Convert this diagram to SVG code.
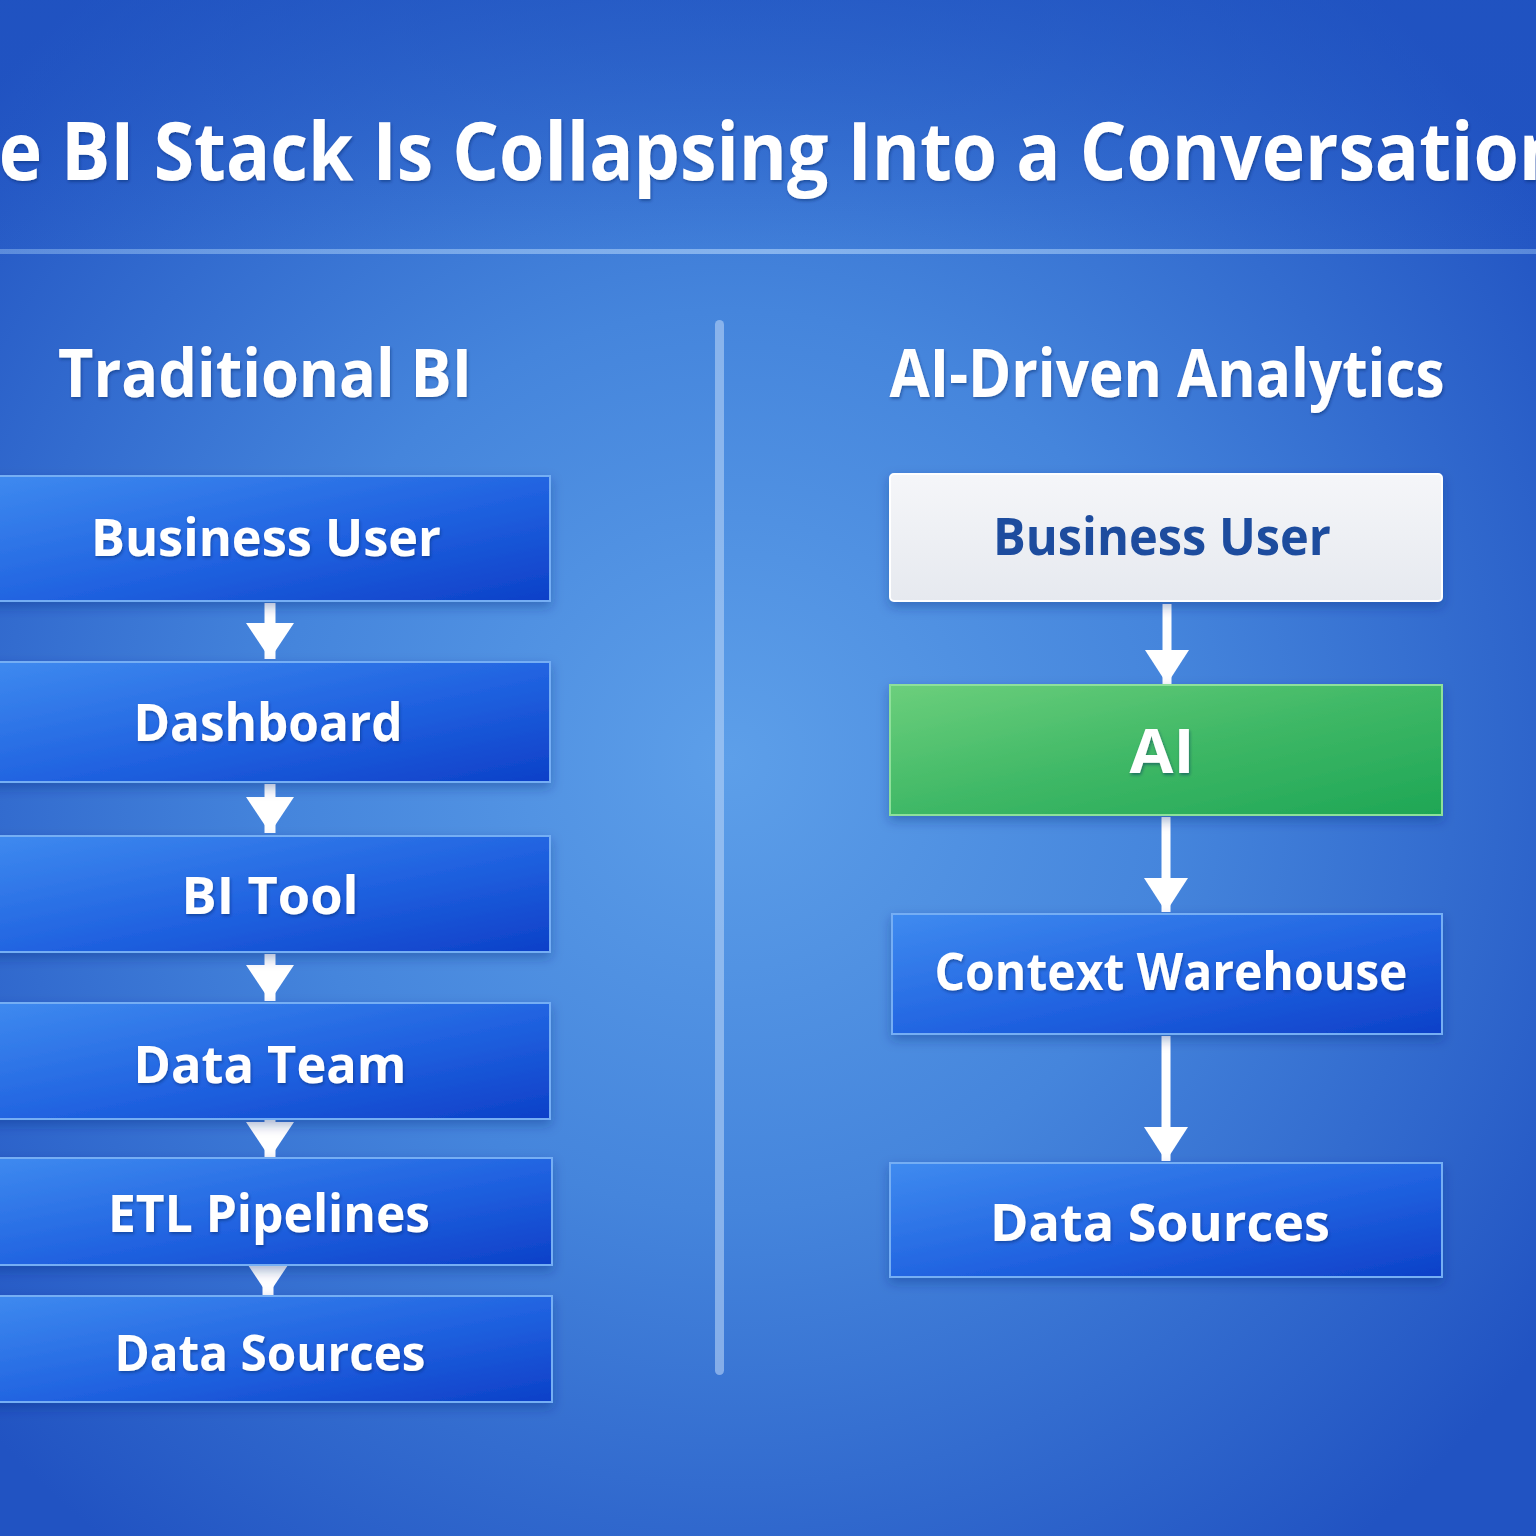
<svg xmlns="http://www.w3.org/2000/svg" width="1536" height="1536" viewBox="0 0 1536 1536">
<defs>
  <radialGradient id="bg" cx="730" cy="760" r="1000" gradientUnits="userSpaceOnUse">
    <stop offset="0" stop-color="#5d9fe9"/>
    <stop offset="0.45" stop-color="#4585dc"/>
    <stop offset="1" stop-color="#2153c2"/>
  </radialGradient>
  <linearGradient id="topband" x1="0" y1="0" x2="0" y2="1">
    <stop offset="0" stop-color="#1f52c0" stop-opacity="0.55"/>
    <stop offset="1" stop-color="#1f52c0" stop-opacity="0"/>
  </linearGradient>
  <linearGradient id="hline" x1="0" y1="0" x2="1" y2="0">
    <stop offset="0" stop-color="#8fbaf0" stop-opacity="0.5"/>
    <stop offset="0.5" stop-color="#8fbaf0" stop-opacity="0.9"/>
    <stop offset="1" stop-color="#8fbaf0" stop-opacity="0.5"/>
  </linearGradient>
  <linearGradient id="blueBox" x1="0" y1="0" x2="1" y2="1">
    <stop offset="0" stop-color="#3f8bf0"/>
    <stop offset="0.55" stop-color="#2062e0"/>
    <stop offset="1" stop-color="#0d40c8"/>
  </linearGradient>
  <linearGradient id="greenBox" x1="0" y1="0" x2="1" y2="1">
    <stop offset="0" stop-color="#6ccf7c"/>
    <stop offset="0.5" stop-color="#3fb866"/>
    <stop offset="1" stop-color="#1ea655"/>
  </linearGradient>
  <linearGradient id="whiteBox" x1="0" y1="0" x2="0" y2="1">
    <stop offset="0" stop-color="#f5f6f9"/>
    <stop offset="1" stop-color="#e6e9ef"/>
  </linearGradient>
  <filter id="boxShadow" x="-10%" y="-20%" width="120%" height="150%">
    <feDropShadow dx="0" dy="5" stdDeviation="6" flood-color="#0a2a7a" flood-opacity="0.35"/>
  </filter>
  <filter id="txtShadow" x="-5%" y="-20%" width="110%" height="150%">
    <feDropShadow dx="1" dy="2" stdDeviation="1.5" flood-color="#06205e" flood-opacity="0.45"/>
  </filter>
  <marker id="headL" markerUnits="userSpaceOnUse" markerWidth="40" markerHeight="50" refX="36" refY="25" orient="auto">
    <path d="M0,1 L36,25 L0,49 z" fill="#ffffff"/>
  </marker>
  <marker id="headR" markerUnits="userSpaceOnUse" markerWidth="40" markerHeight="50" refX="34" refY="23" orient="auto">
    <path d="M0,1 L34,23 L0,45 z" fill="#ffffff"/>
  </marker>
  <style>
    .t { font-family: "Open Sans", "Noto Sans", "DejaVu Sans", sans-serif; font-weight: 700; fill: #ffffff; text-anchor: middle; }
    .blue { fill: url(#blueBox); stroke: #74aef4; stroke-width: 2; filter: url(#boxShadow); }
    .green { fill: url(#greenBox); stroke: #8ee09a; stroke-width: 2; filter: url(#boxShadow); }
    .white { fill: url(#whiteBox); stroke: #ffffff; stroke-width: 2; filter: url(#boxShadow); }
    .lbl { font-size: 52px; filter: url(#txtShadow); }
    .conn { stroke: #ffffff; fill: none; }
    .connL { stroke-width: 11; marker-end: url(#headL); }
    .connR { stroke-width: 9; marker-end: url(#headR); }
  </style>
</defs>

<rect x="0" y="0" width="1536" height="1536" fill="url(#bg)"/>
<rect x="0" y="0" width="1536" height="260" fill="url(#topband)"/>

<g id="title">
  <text class="t" x="-92" y="180" style="text-anchor:start; font-size:80px;" textLength="1659" lengthAdjust="spacingAndGlyphs" filter="url(#txtShadow)">The BI Stack Is Collapsing Into a Conversation</text>
  <rect x="0" y="249" width="1536" height="5" fill="url(#hline)"/>
</g>

<g id="divider">
  <rect x="715" y="320" width="9" height="1055" rx="4.5" fill="#b6d2f6" opacity="0.6"/>
</g>

<g id="heading-traditional">
  <text class="t" x="265" y="397" style="font-size:66px;" textLength="414" lengthAdjust="spacingAndGlyphs" filter="url(#txtShadow)">Traditional BI</text>
</g>
<g id="heading-ai">
  <text class="t" x="1167" y="397" style="font-size:66px;" textLength="555" lengthAdjust="spacingAndGlyphs" filter="url(#txtShadow)">AI-Driven Analytics</text>
</g>

<g id="connectors">
  <line class="conn connL" x1="270" y1="603" x2="270" y2="659"/>
  <line class="conn connL" x1="270" y1="784" x2="270" y2="833"/>
  <line class="conn connL" x1="270" y1="954" x2="270" y2="1001"/>
  <line class="conn connL" x1="270" y1="1110" x2="270" y2="1158"/>
  <line class="conn connL" x1="268" y1="1252" x2="268" y2="1295"/>
  <line class="conn connR" x1="1167" y1="604" x2="1167" y2="684"/>
  <line class="conn connR" x1="1166" y1="817" x2="1166" y2="912"/>
  <line class="conn connR" x1="1166" y1="1036" x2="1166" y2="1161"/>
</g>

<g id="trad-business-user">
  <rect class="blue" x="-20" y="476" width="570" height="125"/>
  <text class="t lbl" x="266" y="556" textLength="350" lengthAdjust="spacingAndGlyphs">Business User</text>
</g>
<g id="trad-dashboard">
  <rect class="blue" x="-20" y="662" width="570" height="120"/>
  <text class="t lbl" x="268" y="741" textLength="269" lengthAdjust="spacingAndGlyphs">Dashboard</text>
</g>
<g id="trad-bi-tool">
  <rect class="blue" x="-20" y="836" width="570" height="116"/>
  <text class="t lbl" x="270" y="914" textLength="177" lengthAdjust="spacingAndGlyphs">BI Tool</text>
</g>
<g id="trad-data-team">
  <rect class="blue" x="-20" y="1003" width="570" height="116"/>
  <text class="t lbl" x="270" y="1083" textLength="273" lengthAdjust="spacingAndGlyphs">Data Team</text>
</g>
<g id="trad-etl-pipelines">
  <rect class="blue" x="-20" y="1158" width="572" height="107"/>
  <text class="t lbl" x="269" y="1232" textLength="322" lengthAdjust="spacingAndGlyphs">ETL Pipelines</text>
</g>
<g id="trad-data-sources">
  <rect class="blue" x="-20" y="1296" width="572" height="106"/>
  <text class="t lbl" x="270" y="1371" style="font-size:50px;" textLength="311" lengthAdjust="spacingAndGlyphs">Data Sources</text>
</g>

<g id="ai-business-user">
  <rect class="white" x="890" y="474" width="552" height="127" rx="4"/>
  <text class="t" x="1162" y="555" style="font-size:52px; fill:#1d4c9e;" textLength="338" lengthAdjust="spacingAndGlyphs">Business User</text>
</g>
<g id="ai-ai">
  <rect class="green" x="890" y="685" width="552" height="130"/>
  <text class="t lbl" x="1162" y="773" style="font-size:60px;" textLength="65" lengthAdjust="spacingAndGlyphs">AI</text>
</g>
<g id="ai-context-warehouse">
  <rect class="blue" x="892" y="914" width="550" height="120"/>
  <text class="t lbl" x="1171" y="990" textLength="473" lengthAdjust="spacingAndGlyphs">Context Warehouse</text>
</g>
<g id="ai-data-sources">
  <rect class="blue" x="890" y="1163" width="552" height="114"/>
  <text class="t lbl" x="1160" y="1241" textLength="340" lengthAdjust="spacingAndGlyphs">Data Sources</text>
</g>
</svg>
